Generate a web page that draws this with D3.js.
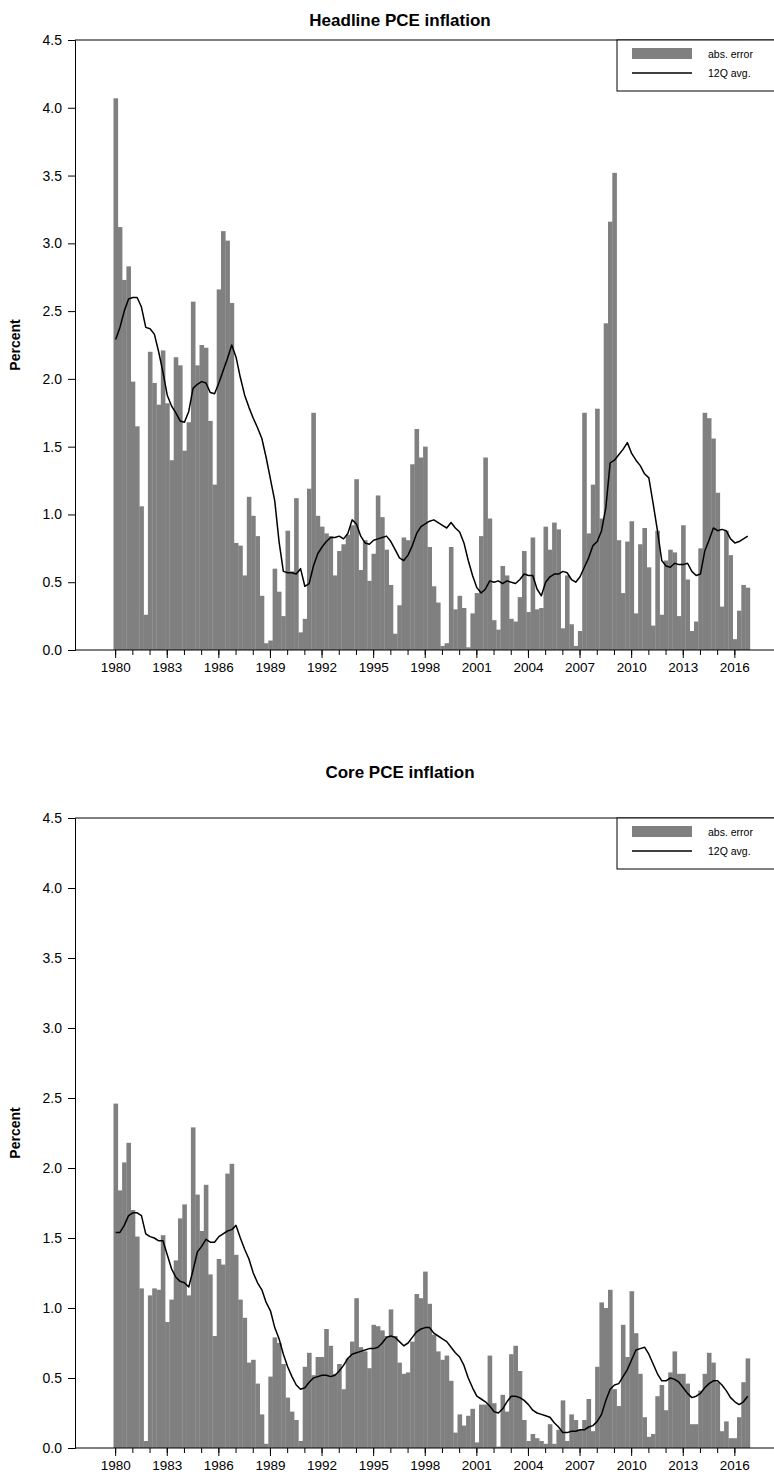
<!DOCTYPE html>
<html>
<head>
<meta charset="utf-8">
<script src="https://cdn.jsdelivr.net/npm/d3@7"></script>
<style>
  body { margin: 0; background: #fff; }
  svg { display: block; font-family: "Liberation Sans", Arial, Helvetica, sans-serif; }
</style>
</head>
<body>
<div id="graph"></div>
<script>
// quarters 1980Q1 .. 2016Q4
const years = d3.range(1980, 2017);
const quarters = years.flatMap(y => [1, 2, 3, 4].map(q => y + "Q" + q));

// Headline PCE: absolute forecast error, one row per year
const headlineErr = [
  4.07, 3.12, 2.73, 2.83,  1.98, 1.65, 1.06, 0.26,  2.20, 1.97, 1.81, 2.21,
  1.82, 1.40, 2.16, 2.10,  1.47, 1.68, 2.57, 2.10,  2.25, 2.23, 1.69, 1.22,
  2.66, 3.09, 3.02, 2.56,  0.79, 0.77, 0.55, 1.13,  0.99, 0.84, 0.40, 0.05,
  0.07, 0.60, 0.43, 0.25,  0.88, 0.58, 1.12, 0.13,  0.23, 1.19, 1.75, 0.99,
  0.91, 0.86, 0.84, 0.55,  0.73, 0.78, 0.85, 0.92,  1.26, 0.59, 0.81, 0.51,
  0.71, 1.14, 0.98, 0.74,  0.48, 0.12, 0.33, 0.83,  0.81, 1.37, 1.63, 1.42,
  1.50, 0.76, 0.47, 0.35,  0.03, 0.05, 0.76, 0.30,  0.40, 0.31, 0.02, 0.27,
  0.42, 0.84, 1.42, 0.97,  0.22, 0.15, 0.62, 0.55,  0.23, 0.21, 0.39, 0.73,
  0.28, 0.83, 0.30, 0.31,  0.91, 0.74, 0.94, 0.89,  0.16, 0.55, 0.19, 0.03,
  0.14, 1.75, 0.86, 1.22,  1.78, 0.97, 2.41, 3.16,  3.52, 0.81, 0.42, 0.80,
  0.95, 0.27, 0.78, 0.90,  0.61, 0.18, 0.88, 0.26,  0.66, 0.74, 0.72, 0.25,
  0.92, 0.52, 0.14, 0.21,  0.75, 1.75, 1.71, 1.56,  1.16, 0.32, 0.88, 0.70,
  0.08, 0.29, 0.48, 0.46
];

// Headline PCE: 12-quarter average
const headlineAvg = [
  2.29, 2.38, 2.50, 2.59,  2.60, 2.60, 2.53, 2.38,  2.37, 2.33, 2.20, 2.05,
  1.88, 1.80, 1.75, 1.69,  1.68, 1.76, 1.93, 1.96,  1.98, 1.97, 1.90, 1.89,
  1.97, 2.06, 2.15, 2.25,  2.16, 2.01, 1.88, 1.79,  1.71, 1.64, 1.56, 1.42,
  1.26, 1.10, 0.80, 0.58,  0.57, 0.57, 0.56, 0.60,  0.47, 0.49, 0.62, 0.71,
  0.76, 0.80, 0.83, 0.83,  0.84, 0.82, 0.86, 0.96,  0.93, 0.84, 0.79, 0.78,
  0.81, 0.82, 0.83, 0.84,  0.80, 0.74, 0.68, 0.66,  0.70, 0.77, 0.86, 0.91,
  0.93, 0.95, 0.96, 0.94,  0.92, 0.90, 0.94, 0.90,  0.87, 0.79, 0.66, 0.55,
  0.46, 0.42, 0.45, 0.51,  0.50, 0.51, 0.49, 0.51,  0.50, 0.49, 0.52, 0.56,
  0.55, 0.55, 0.45, 0.40,  0.50, 0.54, 0.56, 0.56,  0.58, 0.57, 0.52, 0.50,
  0.54, 0.61, 0.68, 0.77,  0.80, 0.88, 1.05, 1.38,  1.40, 1.44, 1.48, 1.53,
  1.45, 1.40, 1.36, 1.30,  1.27, 1.08, 0.88, 0.66,  0.62, 0.61, 0.64, 0.63,
  0.63, 0.64, 0.58, 0.55,  0.56, 0.73, 0.81, 0.90,  0.88, 0.89, 0.88, 0.82,
  0.79, 0.80, 0.82, 0.84
];

// Core PCE: absolute forecast error
const coreErr = [
  2.46, 1.84, 2.04, 2.18,  1.70, 1.51, 1.14, 0.05,  1.09, 1.14, 1.13, 1.52,
  0.90, 1.06, 1.34, 1.64,  1.74, 1.09, 2.29, 1.81,  1.55, 1.88, 1.24, 0.80,
  1.35, 1.31, 1.96, 2.03,  1.38, 1.06, 0.93, 0.61,  0.63, 0.46, 0.24, 0.03,
  0.51, 0.79, 0.75, 0.60,  0.36, 0.26, 0.20, 0.05,  0.58, 0.68, 0.52, 0.65,
  0.65, 0.85, 0.73, 0.53,  0.60, 0.42, 0.64, 0.76,  1.07, 0.72, 0.69, 0.57,
  0.88, 0.87, 0.84, 0.80,  0.99, 0.80, 0.61, 0.53,  0.54, 0.76, 1.10, 1.07,
  1.26, 1.03, 0.81, 0.69,  0.63, 0.66, 0.48, 0.11,  0.24, 0.16, 0.23, 0.28,
  0.04, 0.31, 0.31, 0.66,  0.32, 0.01, 0.38, 0.26,  0.67, 0.73, 0.55, 0.20,
  0.05, 0.10, 0.07, 0.05,  0.03, 0.17, 0.03, 0.13,  0.34, 0.05, 0.24, 0.20,
  0.13, 0.20, 0.35, 0.12,  0.58, 1.04, 1.00, 1.13,  0.42, 0.30, 0.88, 0.65,
  1.12, 0.82, 0.53, 0.22,  0.08, 0.10, 0.37, 0.45,  0.27, 0.54, 0.69, 0.53,
  0.53, 0.46, 0.17, 0.17,  0.41, 0.53, 0.68, 0.61,  0.47, 0.12, 0.19, 0.07,
  0.07, 0.22, 0.47, 0.64
];

// Core PCE: 12-quarter average
const coreAvg = [
  1.54, 1.54, 1.59, 1.66,  1.68, 1.68, 1.66, 1.53,  1.51, 1.50, 1.48, 1.48,
  1.38, 1.28, 1.22, 1.19,  1.18, 1.15, 1.27, 1.40,  1.44, 1.49, 1.47, 1.47,
  1.51, 1.53, 1.55, 1.56,  1.59, 1.50, 1.42, 1.35,  1.25, 1.18, 1.13, 1.04,
  0.98, 0.86, 0.78, 0.67,  0.58, 0.51, 0.45, 0.42,  0.43, 0.47, 0.50, 0.51,
  0.52, 0.52, 0.51, 0.52,  0.55, 0.59, 0.64, 0.67,  0.68, 0.69, 0.70, 0.71,
  0.71, 0.72, 0.75, 0.79,  0.80, 0.79, 0.76, 0.73,  0.75, 0.79, 0.83, 0.85,
  0.86, 0.86, 0.82, 0.80,  0.78, 0.76, 0.72, 0.68,  0.65, 0.59, 0.50, 0.43,
  0.37, 0.35, 0.33, 0.30,  0.26, 0.25, 0.28, 0.33,  0.37, 0.37, 0.36, 0.34,
  0.31, 0.27, 0.25, 0.24,  0.23, 0.22, 0.18, 0.15,  0.11, 0.11, 0.12, 0.12,
  0.13, 0.13, 0.15, 0.16,  0.19, 0.24, 0.34, 0.42,  0.45, 0.46, 0.51, 0.56,
  0.63, 0.70, 0.71, 0.72,  0.67, 0.60, 0.53, 0.48,  0.48, 0.50, 0.49, 0.47,
  0.43, 0.39, 0.36, 0.37,  0.39, 0.43, 0.46, 0.48,  0.48, 0.45, 0.41, 0.36,
  0.33, 0.31, 0.33, 0.37
];

const yTicks = [0, 0.5, 1, 1.5, 2, 2.5, 3, 3.5, 4, 4.5];
const labelYears = [1980, 1983, 1986, 1989, 1992, 1995, 1998, 2001, 2004, 2007, 2010, 2013, 2016];
const legendLabels = ["abs. error", "12Q avg."];

const width = 774, height = 1480;
const barColor = "#808080";

const panels = [
  {title: "Headline PCE inflation", err: headlineErr, avg: headlineAvg, titleY: 26, top: 40, bottom: 650},
  {title: "Core PCE inflation", err: coreErr, avg: coreAvg, titleY: 778, top: 818, bottom: 1448}
];

var svg = d3.select("#graph")
  .append("svg")
  .attr("width", width)
  .attr("height", height);

// one band per quarter, no gap between bars
var x = d3.scaleBand()
  .domain(quarters)
  .range([113.5, 113.5 + quarters.length * 4.3])
  .padding(0);

const axisX = 75;

panels.forEach(p => {
  var y = d3.scaleLinear().domain([0, 4.5]).range([p.bottom, p.top]);
  var g = svg.append("g");

  // bars
  g.selectAll("rect.bar")
    .data(p.err)
    .join("rect")
    .attr("class", "bar")
    .attr("x", (d, i) => x(quarters[i]))
    .attr("width", x.bandwidth() + 0.3)
    .attr("y", d => y(d))
    .attr("height", d => y(0) - y(d))
    .attr("fill", barColor);

  // 12Q average line
  var line = d3.line()
    .x((d, i) => x(quarters[i]) + x.bandwidth() / 2)
    .y(d => y(d));

  g.append("path")
    .datum(p.avg)
    .attr("d", line)
    .attr("fill", "none")
    .attr("stroke", "#000")
    .attr("stroke-width", 1.5)
    .attr("stroke-linejoin", "round");

  // frame: top and bottom lines run to the right edge
  g.append("line")
    .attr("x1", axisX).attr("x2", width)
    .attr("y1", y(4.5)).attr("y2", y(4.5))
    .attr("stroke", "#000");
  g.append("line")
    .attr("x1", axisX).attr("x2", width)
    .attr("y1", y(0)).attr("y2", y(0))
    .attr("stroke", "#000");

  // y axis
  var yAxis = g.append("g")
    .attr("transform", "translate(" + axisX + ",0)")
    .call(d3.axisLeft(y).tickValues(yTicks).tickFormat(d3.format(".1f")).tickSize(7).tickPadding(6));
  yAxis.select(".domain").attr("stroke", "#000");
  yAxis.selectAll("text").attr("font-size", 14).attr("fill", "#000")
    .attr("font-family", "'Liberation Sans', Arial, sans-serif");

  // x axis: minor tick every year, label every 3 years
  var xAxis = g.append("g")
    .attr("transform", "translate(0," + y(0) + ")")
    .call(d3.axisBottom(x)
      .tickValues(years.map(yr => yr + "Q1"))
      .tickSize(5)
      .tickFormat(""));
  xAxis.select(".domain").remove();

  var xLab = g.append("g")
    .attr("transform", "translate(0," + y(0) + ")")
    .call(d3.axisBottom(x)
      .tickValues(labelYears.map(yr => yr + "Q1"))
      .tickSize(8)
      .tickPadding(4)
      .tickFormat(q => q.slice(0, 4)));
  xLab.select(".domain").remove();
  xLab.selectAll("text").attr("font-size", 13.5).attr("fill", "#000")
    .attr("font-family", "'Liberation Sans', Arial, sans-serif");

  // title
  g.append("text")
    .attr("x", 400)
    .attr("y", p.titleY)
    .attr("text-anchor", "middle")
    .attr("font-size", 17)
    .attr("font-weight", "bold")
    .text(p.title);

  // y label
  g.append("text")
    .attr("transform", "translate(20," + (p.top + p.bottom) / 2 + ") rotate(-90)")
    .attr("text-anchor", "middle")
    .attr("font-size", 14)
    .attr("font-weight", "bold")
    .text("Percent");

  // legend
  var lg = g.append("g").attr("transform", "translate(617," + p.top + ")");
  lg.append("rect")
    .attr("x", 0).attr("y", 0)
    .attr("width", 170).attr("height", 51)
    .attr("fill", "#fff")
    .attr("stroke", "#000");
  lg.append("rect")
    .attr("x", 15).attr("y", 8)
    .attr("width", 60).attr("height", 11)
    .attr("fill", barColor);
  lg.append("line")
    .attr("x1", 15).attr("x2", 75)
    .attr("y1", 33).attr("y2", 33)
    .attr("stroke", "#000")
    .attr("stroke-width", 1.5);
  lg.selectAll("text.leg")
    .data(legendLabels)
    .join("text")
    .attr("class", "leg")
    .attr("x", 91)
    .attr("y", (d, i) => 14 + i * 19)
    .attr("dy", "0.35em")
    .attr("font-size", 10.5)
    .text(d => d);
});
</script>
</body>
</html>
